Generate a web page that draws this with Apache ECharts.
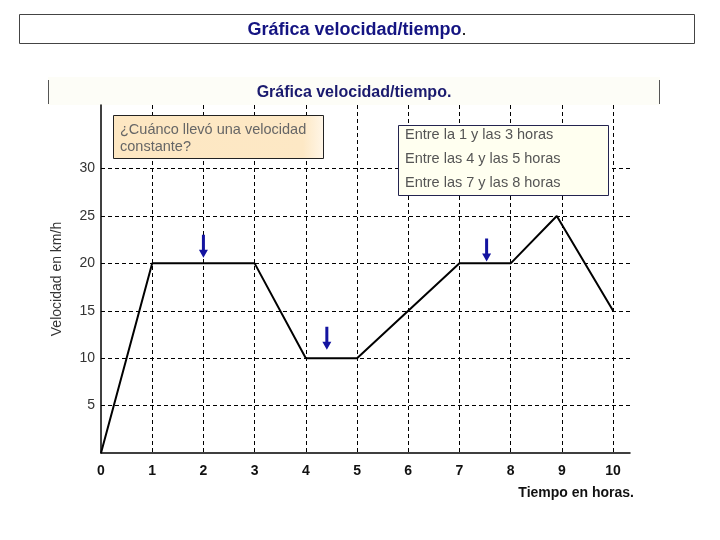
<!DOCTYPE html>
<html><head><meta charset="utf-8">
<script src="https://cdn.jsdelivr.net/npm/echarts@6/dist/echarts.min.js"></script>
<style>html,body{margin:0;padding:0;background:#fff}#c{width:720px;height:540px}</style>
</head><body><div id="c"></div>
<script>
// data
const timeHours = [0, 1, 3, 4, 5, 7, 8, 8.9, 10];
const speedKmh  = [0, 20, 20, 10, 10, 20, 20, 25, 15];
const yTickValues = [5, 10, 15, 20, 25, 30];
const xTickLabels = ['0','1','2','3','4','5','6','7','8','9','10'];
const arrowX = [2, 4.41, 7.53];
const arrowY = [21.8, 12.1, 21.4];
const titleText = 'Gráfica velocidad/tiempo';
const questionLines = ['¿Cuánco llevó una velocidad', 'constante?'];
const answerLines = ['Entre la 1 y las 3 horas', 'Entre las 4 y las 5 horas', 'Entre las 7 y las 8 horas'];

const chart = echarts.init(document.getElementById('c'), null, {renderer:'canvas'});
const font = 'Arial, "Liberation Sans", sans-serif';
const dash = [4, 3];

const option = {
  backgroundColor: '#fff',
  animation: false,
  grid: {left: 101, top: 105, right: 90, bottom: 87, containLabel: false},
  xAxis: {
    type: 'value', min: 0, max: 10.33, interval: 1,
    axisLine: {show: true, lineStyle: {color: '#000', width: 1.5}},
    axisTick: {show: false},
    axisLabel: {
      margin: 11, color: '#111', fontFamily: font, fontSize: 14, fontWeight: 'bold',
      formatter: v => (Number.isInteger(v) ? xTickLabels[v] : '')
    },
    splitLine: {show: true, showMinLine: false, showMaxLine: false, lineStyle: {color: '#000', type: dash, width: 1}},
    name: 'Tiempo en horas.', nameLocation: 'end',
    nameTextStyle: {color: '#111', fontFamily: font, fontSize: 14, fontWeight: 'bold',
      align: 'right', verticalAlign: 'top', padding: [33, 0, 0, 0]},
    nameGap: 4
  },
  yAxis: {
    type: 'value', min: 0, max: 36.7, interval: 5,
    axisLine: {show: true, onZero: false, lineStyle: {color: '#000', width: 1.5}},
    axisTick: {show: false},
    axisLabel: {
      margin: 6, color: '#333', fontFamily: font, fontSize: 14,
      formatter: v => (yTickValues.includes(v) ? String(v) : '')
    },
    splitLine: {show: false},
    name: 'Velocidad en km/h', nameLocation: 'middle', nameGap: 37, nameRotate: 90,
    nameTextStyle: {color: '#333', fontFamily: font, fontSize: 14}
  },
  series: [
    {
      type: 'line',
      data: timeHours.map((t, i) => [t, speedKmh[i]]),
      showSymbol: false, symbol: 'none',
      lineStyle: {color: '#000', width: 2},
      z: 5,
      markLine: {
        silent: true, symbol: 'none', label: {show: false},
        lineStyle: {color: '#000', type: dash, width: 1},
        data: yTickValues.map(v => ({yAxis: v})),
        z: 1
      }
    },
    {
      type: 'scatter',
      data: arrowX.map((x, i) => [x, arrowY[i]]),
      symbol: 'path://M3,0 L6,0 L6,15 L9,15 L4.5,23 L0,15 L3,15 Z',
      symbolSize: [9, 23],
      itemStyle: {color: '#1414a0', opacity: 1},
      z: 6
    }
  ],
  graphic: [
    {type: 'rect', shape: {x: 19.5, y: 14.5, width: 675, height: 29}, style: {fill: '#fff', stroke: '#444', lineWidth: 1}},
    {type: 'text', x: 357, y: 30, style: {
      text: '{b|' + titleText + '}{k|.}', align: 'center', verticalAlign: 'middle',
      rich: {b: {fill: '#141482', font: 'bold 18px ' + font}, k: {fill: '#000', font: '18px ' + font}}
    }},
    {type: 'rect', shape: {x: 48, y: 77, width: 612, height: 28}, style: {fill: '#fdfdf7', stroke: null}, z: -1},
    {type: 'line', shape: {x1: 48.5, y1: 80, x2: 48.5, y2: 104}, style: {stroke: '#555', lineWidth: 1}},
    {type: 'line', shape: {x1: 659.5, y1: 80, x2: 659.5, y2: 104}, style: {stroke: '#555', lineWidth: 1}},
    {type: 'text', x: 354, y: 93, style: {text: titleText + '.', fill: '#1a1a6e', font: 'bold 16px ' + font, align: 'center', verticalAlign: 'middle'}},
    {type: 'rect', shape: {x: 113.5, y: 115.5, width: 210, height: 43},
      style: {fill: new echarts.graphic.LinearGradient(0, 0, 1, 0, [{offset: 0, color: '#fde7c2'}, {offset: 0.9, color: '#fde8c5'}, {offset: 1, color: '#fff6e8'}]), stroke: '#222', lineWidth: 1}, z: 10},
    {type: 'text', x: 120, y: 130, z: 11, style: {text: questionLines[0], fill: '#666', font: '14.5px ' + font, verticalAlign: 'middle'}},
    {type: 'text', x: 120, y: 147, z: 11, style: {text: questionLines[1], fill: '#666', font: '14.5px ' + font, verticalAlign: 'middle'}},
    {type: 'rect', shape: {x: 398.5, y: 125.5, width: 210, height: 70},
      style: {fill: '#fffff0', stroke: '#232350', lineWidth: 1}, z: 10},
    {type: 'text', x: 405, y: 135, z: 11, style: {text: answerLines[0], fill: '#555', font: '14.5px ' + font, verticalAlign: 'middle'}},
    {type: 'text', x: 405, y: 159, z: 11, style: {text: answerLines[1], fill: '#555', font: '14.5px ' + font, verticalAlign: 'middle'}},
    {type: 'text', x: 405, y: 183, z: 11, style: {text: answerLines[2], fill: '#555', font: '14.5px ' + font, verticalAlign: 'middle'}}
  ]
};
chart.setOption(option);
</script></body></html>
